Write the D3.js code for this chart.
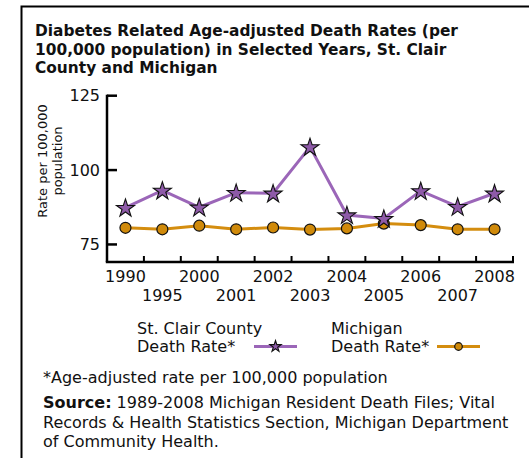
<!DOCTYPE html>
<html><head><meta charset="utf-8">
<script src="https://cdn.jsdelivr.net/npm/d3@7"></script>
<style>body{margin:0;background:#fff}svg{display:block;font-family:"DejaVu Sans",Verdana,sans-serif}</style>
</head><body>
<script>
const years = ["1990","1995","2000","2001","2002","2003","2004","2005","2006","2007","2008"];
const stClair = [87.4,93.2,87.5,92.4,92.2,107.8,84.9,83.7,93.0,87.7,92.2];
const michigan = [80.6,80.1,81.3,80.1,80.7,80.0,80.4,82.0,81.5,80.1,80.1];
const yTicks = [75,100,125];
const titleLines = ["Diabetes Related Age-adjusted Death Rates (per","100,000 population) in Selected Years, St. Clair","County and Michigan"];
const yTitle = ["Rate per 100,000","population"];
const legendNames = [["St. Clair County","Death Rate*"],["Michigan","Death Rate*"]];
const footnote = "*Age-adjusted rate per 100,000 population";
const sourceLines = [["Source:"," 1989-2008 Michigan Resident Death Files; Vital"],["","Records & Health Statistics Section, Michigan Department"],["","of Community Health."]];

const purple="#9b66b8", purpleFill="#8e5aa8", orange="#d48d0f", orangeFill="#d08a0a";
const W=529,H=458;
const svg=d3.select("body").append("svg").attr("width",W).attr("height",H);

// frame
svg.append("path").attr("d",`M21.5,${H} L21.5,6.5 L${W},6.5`).attr("fill","none").attr("stroke","#000").attr("stroke-width",2);

// title
svg.append("g").selectAll("text").data(titleLines).join("text")
  .attr("x",35).attr("y",(d,i)=>36+i*18.5).attr("font-weight","bold").attr("font-size",15.4).attr("fill","#111").text(d=>d);

const x=d3.scaleBand().domain(years).range([107,513]).padding(0);
const y=d3.scaleLinear().domain([69.1,125]).range([262,95.7]);

// y axis
const ya=svg.append("g");
ya.append("line").attr("x1",107).attr("x2",107).attr("y1",y(125)-1).attr("y2",y.range()[0]).attr("stroke","#000").attr("stroke-width",2.5);
ya.selectAll(".yt").data(yTicks).join("line").attr("x1",107).attr("x2",117).attr("y1",d=>y(d)).attr("y2",d=>y(d)).attr("stroke","#000").attr("stroke-width",2.5);
ya.selectAll("text").data(yTicks).join("text").attr("x",100).attr("y",d=>y(d)).attr("dy","0.36em").attr("text-anchor","end").attr("font-size",16).attr("fill","#111").text(d=>d);

// x axis
const xa=svg.append("g");
xa.append("line").attr("x1",105.8).attr("x2",514).attr("y1",262).attr("y2",262).attr("stroke","#000").attr("stroke-width",2.5);
xa.selectAll(".xt").data(years).join("line").attr("x1",d=>x(d)+x.bandwidth()).attr("x2",d=>x(d)+x.bandwidth()).attr("y1",262).attr("y2",256).attr("stroke","#000").attr("stroke-width",2);
xa.selectAll("text").data(years).join("text").attr("x",d=>x(d)+x.bandwidth()/2).attr("y",(d,i)=>i%2===0?282:300.5).attr("text-anchor","middle").attr("font-size",16).attr("fill","#111").text(d=>d);

// y title
const yt=svg.append("text").attr("transform","translate(47,161) rotate(-90)").attr("text-anchor","middle").attr("font-size",13).attr("fill","#111");
yt.selectAll("tspan").data(yTitle).join("tspan").attr("x",0).attr("dy",(d,i)=>i?15:0).text(d=>d);

const cx=d=>x(d)+x.bandwidth()/2;
const star=d3.symbol().type(d3.symbolStar);
const line=d3.line().x((d,i)=>cx(years[i])).y(d=>y(d));

svg.append("path").datum(michigan).attr("d",line).attr("fill","none").attr("stroke",orange).attr("stroke-width",3);
svg.append("path").datum(stClair).attr("d",line).attr("fill","none").attr("stroke",purple).attr("stroke-width",3);
svg.append("g").selectAll("circle").data(michigan).join("circle").attr("cx",(d,i)=>cx(years[i])).attr("cy",d=>y(d)).attr("r",5.5).attr("fill",orangeFill).attr("stroke","#111").attr("stroke-width",1.2);
svg.append("g").selectAll("path").data(stClair).join("path").attr("transform",(d,i)=>`translate(${cx(years[i])},${y(d)+0.8})`).attr("d",star.size(100)).attr("fill",purpleFill).attr("stroke","#111").attr("stroke-width",1.1);

// legend
const lg=svg.append("g").attr("font-size",16).attr("fill","#111");
const legX=[137,331], lineX=[[254,297],[437,480]];
legendNames.forEach((n,k)=>{
  n.forEach((t,j)=>lg.append("text").attr("x",legX[k]).attr("y",334+j*18).attr("fill","#111").text(t));
  const col=k?orange:purple;
  lg.append("line").attr("x1",lineX[k][0]).attr("x2",lineX[k][1]).attr("y1",346.5).attr("y2",346.5).attr("stroke",col).attr("stroke-width",3);
  const mx=(lineX[k][0]+lineX[k][1])/2;
  if(k) lg.append("circle").attr("cx",mx).attr("cy",346.5).attr("r",3.8).attr("fill",orangeFill).attr("stroke","#111").attr("stroke-width",1.2);
  else lg.append("path").attr("transform",`translate(${mx},346.5)`).attr("d",d3.symbol().type(d3.symbolStar).size(40)()).attr("fill",purpleFill).attr("stroke","#111").attr("stroke-width",1.1);
});

// footnote & source
svg.append("text").attr("x",43).attr("y",383).attr("font-size",16).attr("fill","#111").text(footnote);
const src=svg.append("g").attr("font-size",16).attr("fill","#111");
sourceLines.forEach((l,i)=>{
  const t=src.append("text").attr("x",43).attr("y",408+i*19.5);
  if(l[0]) t.append("tspan").attr("font-weight","bold").text(l[0]);
  t.append("tspan").text(l[1]);
});
</script>
</body></html>
